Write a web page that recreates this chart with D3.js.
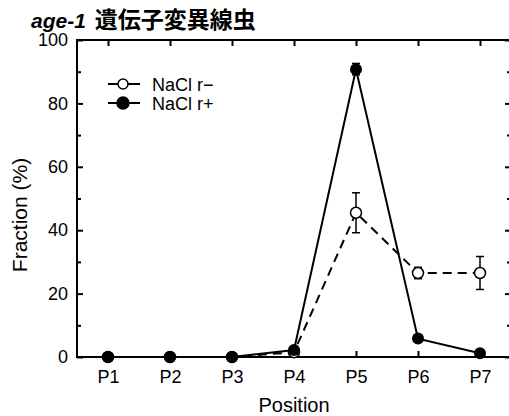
<!DOCTYPE html>
<html><head><meta charset="utf-8">
<script src="https://cdn.jsdelivr.net/npm/d3@7"></script>
<style>body{margin:0;background:#fff}svg{display:block}</style>
</head><body><svg id="c" width="509" height="416"></svg>
<script>
const categories = ["P1","P2","P3","P4","P5","P6","P7"];
const seriesNames = ["NaCl r\u2212","NaCl r+"];
const rMinus = [0,0,0,1.5,45.5,26.5,26.5];
const rMinusErr = [0,0,0,0,6.3,1.8,5.2];
const rPlus = [0,0,0,2.2,90.8,5.8,1.2];
const rPlusErr = [0,0,0,0,1.8,0,0];
const yTicks = [0,20,40,60,80,100];
const yMinor = [10,30,50,70,90];

const svg = d3.select("#c");
const L=77, R=511, T=40, B=357;
const x = d3.scalePoint().domain(categories).range([L,R]).padding(0.5);
const y = d3.scaleLinear().domain([0,100]).range([B,T]);
const font = "'Liberation Sans', Arial, sans-serif";

// title
const title = svg.append("text").attr("x",31).attr("y",28)
  .attr("font-family",font).attr("font-size",21).attr("font-weight","bold");
title.append("tspan").attr("font-style","italic").text("age-1");
title.append("tspan").attr("font-family","'Noto Sans CJK JP'").attr("font-size",23).attr("dx",9).text("遺伝子変異線虫");

// frame
const g = svg.append("g");
g.append("rect").attr("x",L).attr("y",T).attr("width",R-L).attr("height",B-T)
  .attr("fill","none").attr("stroke","#000").attr("stroke-width",2);

// axes with inward ticks
const yAxL = d3.axisLeft(y).tickValues(yTicks).tickSize(-6).tickPadding(9).tickSizeOuter(0);
const gl = g.append("g").attr("transform",`translate(${L},0)`).call(yAxL);
gl.select(".domain").remove();
gl.selectAll("text").attr("font-family",font).attr("font-size",18).attr("fill","#000");
gl.selectAll("line").attr("stroke-width",2);
const glm = g.append("g").attr("transform",`translate(${L},0)`)
  .call(d3.axisLeft(y).tickValues(yMinor).tickSize(-4).tickFormat(""));
glm.select(".domain").remove(); glm.selectAll("line").attr("stroke-width",2);

const gr = g.append("g").attr("transform",`translate(${R},0)`)
  .call(d3.axisRight(y).tickValues(yTicks).tickSize(-6).tickFormat(""));
gr.select(".domain").remove(); gr.selectAll("line").attr("stroke-width",2);
const grm = g.append("g").attr("transform",`translate(${R},0)`)
  .call(d3.axisRight(y).tickValues(yMinor).tickSize(-4).tickFormat(""));
grm.select(".domain").remove(); grm.selectAll("line").attr("stroke-width",2);

const gb = g.append("g").attr("transform",`translate(0,${B})`)
  .call(d3.axisBottom(x).tickSize(-6).tickPadding(13).tickSizeOuter(0));
gb.select(".domain").remove();
gb.selectAll("text").attr("font-family",font).attr("font-size",18).attr("fill","#000");
gb.selectAll("line").attr("stroke-width",2);
const gt = g.append("g").attr("transform",`translate(0,${T})`)
  .call(d3.axisTop(x).tickSize(-6).tickFormat(""));
gt.select(".domain").remove(); gt.selectAll("line").attr("stroke-width",2);

// axis titles
svg.append("text").attr("x",(L+R)/2).attr("y",412).attr("text-anchor","middle")
  .attr("font-family",font).attr("font-size",20).text("Position");
svg.append("text").attr("transform",`translate(27,215) rotate(-90)`).attr("text-anchor","middle")
  .attr("font-family",font).attr("font-size",21).text("Fraction (%)");

// lines
const line = d3.line().x((d,i)=>x(categories[i])).y(d=>y(d));
g.append("path").datum(rPlus).attr("d",line).attr("fill","none").attr("stroke","#000").attr("stroke-width",2);
g.append("path").datum(rMinus).attr("d",line).attr("fill","none").attr("stroke","#000").attr("stroke-width",2)
  .attr("stroke-dasharray","9,6");

// error bars
function errs(vals, errsArr){
  vals.forEach((v,i)=>{
    const e=errsArr[i]; if(!e) return;
    const cx=x(categories[i]);
    g.append("line").attr("x1",cx).attr("x2",cx).attr("y1",y(v-e)).attr("y2",y(v+e)).attr("stroke","#000").attr("stroke-width",1.5);
    [v-e,v+e].forEach(t=>g.append("line").attr("x1",cx-4).attr("x2",cx+4).attr("y1",y(t)).attr("y2",y(t)).attr("stroke","#000").attr("stroke-width",1.5));
  });
}
errs(rMinus,rMinusErr); errs(rPlus,rPlusErr);

// markers
g.selectAll(".pm").data(rMinus).join("circle").attr("cx",(d,i)=>x(categories[i])).attr("cy",d=>y(d))
  .attr("r",5.5).attr("fill","#fff").attr("stroke","#000").attr("stroke-width",1.5);
g.selectAll(".pp").data(rPlus).join("circle").attr("cx",(d,i)=>x(categories[i])).attr("cy",d=>y(d))
  .attr("r",6).attr("fill","#000");

// legend
const lg = svg.append("g");
const rows=[{n:seriesNames[0],fill:"#fff",y:84,r:5},{n:seriesNames[1],fill:"#000",y:103,r:6}];
rows.forEach(rw=>{
  lg.append("line").attr("x1",108).attr("x2",140).attr("y1",rw.y).attr("y2",rw.y).attr("stroke","#000").attr("stroke-width",2);
  lg.append("circle").attr("cx",123).attr("cy",rw.y).attr("r",rw.r).attr("fill",rw.fill).attr("stroke","#000").attr("stroke-width",1.5);
  lg.append("text").attr("x",152).attr("y",rw.y+6.5).attr("font-family",font).attr("font-size",18).text(rw.n);
});
</script></body></html>
